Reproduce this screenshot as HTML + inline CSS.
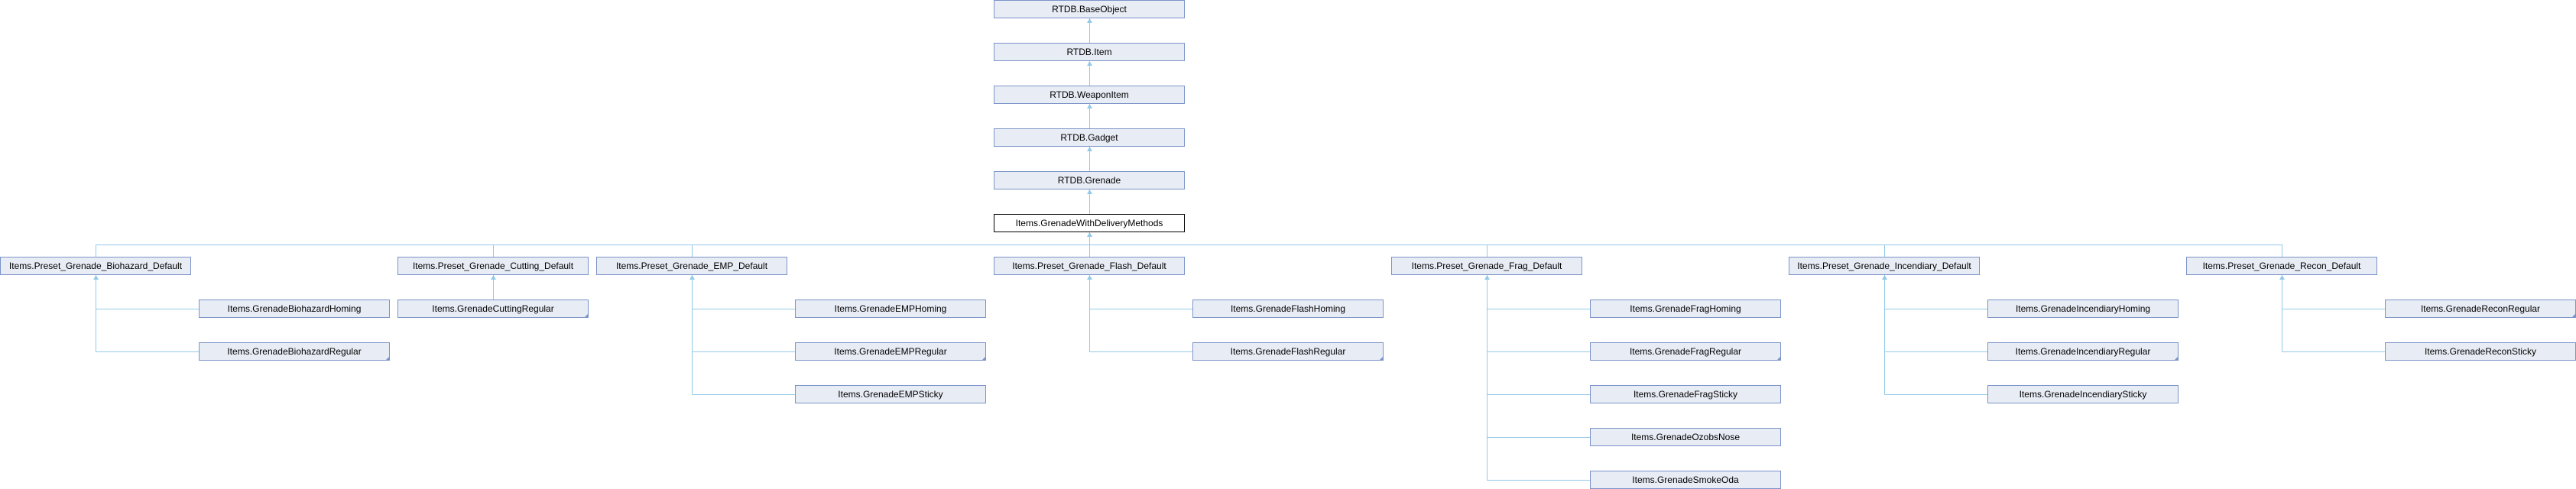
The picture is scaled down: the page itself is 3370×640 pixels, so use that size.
<!DOCTYPE html>
<html><head><meta charset="utf-8"><style>
html,body{margin:0;padding:0;background:#fff;}
svg{display:block;}
text{font-family:"Liberation Sans",Arial,sans-serif;font-size:12px;fill:#000;text-anchor:middle;}
.b{fill:#e8ecf5;stroke:#7b93c8;stroke-width:1;}
.f{fill:#fff;stroke:#000;stroke-width:1;}
.l{stroke:#93c9e8;stroke-width:1;fill:none;}
.a{fill:#93c9e8;}
.c{fill:#7b93c8;}
</style></head><body>
<svg width="3370" height="640" viewBox="0 0 3370 640" xmlns="http://www.w3.org/2000/svg">
<g id="lines">
<path class="l" d="M1425.5 23 V56 M1425.5 79 V112 M1425.5 135 V168 M1425.5 191 V224 M1425.5 247 V280 M1425.5 303 V336"/>
<path class="l" d="M125.5 320.5 H2985.5"/>
<path class="l" d="M125.5 320 V336 M645.5 320 V336 M905.5 320 V336 M1945.5 320 V336 M2465.5 320 V336 M2985.5 320 V336"/>
<path class="l" d="M125.5 359 V404.5 H260 M125.5 404.5 V460.5 H260"/>
<path class="l" d="M645.5 359 V392"/>
<path class="l" d="M905.5 359 V516.5 M905.5 404.5 H1040 M905.5 460.5 H1040 M905.5 516.5 H1040"/>
<path class="l" d="M1425.5 359 V460.5 M1425.5 404.5 H1560 M1425.5 460.5 H1560"/>
<path class="l" d="M1945.5 359 V628.5 M1945.5 404.5 H2080 M1945.5 460.5 H2080 M1945.5 516.5 H2080 M1945.5 572.5 H2080 M1945.5 628.5 H2080"/>
<path class="l" d="M2465.5 359 V516.5 M2465.5 404.5 H2600 M2465.5 460.5 H2600 M2465.5 516.5 H2600"/>
<path class="l" d="M2985.5 359 V460.5 M2985.5 404.5 H3120 M2985.5 460.5 H3120"/>
</g>
<g id="arrows">
<path class="a" d="M1425.5 24 l-3.5 6 h7z M1425.5 80 l-3.5 6 h7z M1425.5 136 l-3.5 6 h7z M1425.5 192 l-3.5 6 h7z M1425.5 248 l-3.5 6 h7z M1425.5 304 l-3.5 6 h7z"/>
<path class="a" d="M125.5 360 l-3.5 6 h7z M645.5 360 l-3.5 6 h7z M905.5 360 l-3.5 6 h7z M1425.5 360 l-3.5 6 h7z M1945.5 360 l-3.5 6 h7z M2465.5 360 l-3.5 6 h7z M2985.5 360 l-3.5 6 h7z"/>
</g>
<g id="boxes">
<rect class="b" x="1300.5" y="0.5" width="249" height="23"/><text x="1425" y="16">RTDB.BaseObject</text>
<rect class="b" x="1300.5" y="56.5" width="249" height="23"/><text x="1425" y="72">RTDB.Item</text>
<rect class="b" x="1300.5" y="112.5" width="249" height="23"/><text x="1425" y="128">RTDB.WeaponItem</text>
<rect class="b" x="1300.5" y="168.5" width="249" height="23"/><text x="1425" y="184">RTDB.Gadget</text>
<rect class="b" x="1300.5" y="224.5" width="249" height="23"/><text x="1425" y="240">RTDB.Grenade</text>
<rect class="f" x="1300.5" y="280.5" width="249" height="23"/><text x="1425" y="296">Items.GrenadeWithDeliveryMethods</text>

<rect class="b" x="0.5" y="336.5" width="249" height="23"/><text x="125" y="352">Items.Preset_Grenade_Biohazard_Default</text>
<rect class="b" x="520.5" y="336.5" width="249" height="23"/><text x="645" y="352">Items.Preset_Grenade_Cutting_Default</text>
<rect class="b" x="780.5" y="336.5" width="249" height="23"/><text x="905" y="352">Items.Preset_Grenade_EMP_Default</text>
<rect class="b" x="1300.5" y="336.5" width="249" height="23"/><text x="1425" y="352">Items.Preset_Grenade_Flash_Default</text>
<rect class="b" x="1820.5" y="336.5" width="249" height="23"/><text x="1945" y="352">Items.Preset_Grenade_Frag_Default</text>
<rect class="b" x="2340.5" y="336.5" width="249" height="23"/><text x="2465" y="352">Items.Preset_Grenade_Incendiary_Default</text>
<rect class="b" x="2860.5" y="336.5" width="249" height="23"/><text x="2985" y="352">Items.Preset_Grenade_Recon_Default</text>

<rect class="b" x="260.5" y="392.5" width="249" height="23"/><text x="385" y="408">Items.GrenadeBiohazardHoming</text>
<rect class="b" x="260.5" y="448.5" width="249" height="23"/><text x="385" y="464">Items.GrenadeBiohazardRegular</text>
<path class="c" d="M510 466 V472 H504z"/>

<rect class="b" x="520.5" y="392.5" width="249" height="23"/><text x="645" y="408">Items.GrenadeCuttingRegular</text>
<path class="c" d="M770 410 V416 H764z"/>

<rect class="b" x="1040.5" y="392.5" width="249" height="23"/><text x="1165" y="408">Items.GrenadeEMPHoming</text>
<rect class="b" x="1040.5" y="448.5" width="249" height="23"/><text x="1165" y="464">Items.GrenadeEMPRegular</text>
<path class="c" d="M1290 466 V472 H1284z"/>
<rect class="b" x="1040.5" y="504.5" width="249" height="23"/><text x="1165" y="520">Items.GrenadeEMPSticky</text>

<rect class="b" x="1560.5" y="392.5" width="249" height="23"/><text x="1685" y="408">Items.GrenadeFlashHoming</text>
<rect class="b" x="1560.5" y="448.5" width="249" height="23"/><text x="1685" y="464">Items.GrenadeFlashRegular</text>
<path class="c" d="M1810 466 V472 H1804z"/>

<rect class="b" x="2080.5" y="392.5" width="249" height="23"/><text x="2205" y="408">Items.GrenadeFragHoming</text>
<rect class="b" x="2080.5" y="448.5" width="249" height="23"/><text x="2205" y="464">Items.GrenadeFragRegular</text>
<path class="c" d="M2330 466 V472 H2324z"/>
<rect class="b" x="2080.5" y="504.5" width="249" height="23"/><text x="2205" y="520">Items.GrenadeFragSticky</text>
<rect class="b" x="2080.5" y="560.5" width="249" height="23"/><text x="2205" y="576">Items.GrenadeOzobsNose</text>
<rect class="b" x="2080.5" y="616.5" width="249" height="23"/><text x="2205" y="632">Items.GrenadeSmokeOda</text>

<rect class="b" x="2600.5" y="392.5" width="249" height="23"/><text x="2725" y="408">Items.GrenadeIncendiaryHoming</text>
<rect class="b" x="2600.5" y="448.5" width="249" height="23"/><text x="2725" y="464">Items.GrenadeIncendiaryRegular</text>
<path class="c" d="M2850 466 V472 H2844z"/>
<rect class="b" x="2600.5" y="504.5" width="249" height="23"/><text x="2725" y="520">Items.GrenadeIncendiarySticky</text>

<rect class="b" x="3120.5" y="392.5" width="249" height="23"/><text x="3245" y="408">Items.GrenadeReconRegular</text>
<path class="c" d="M3370 410 V416 H3364z"/>
<rect class="b" x="3120.5" y="448.5" width="249" height="23"/><text x="3245" y="464">Items.GrenadeReconSticky</text>
</g>
</svg>
</body></html>
